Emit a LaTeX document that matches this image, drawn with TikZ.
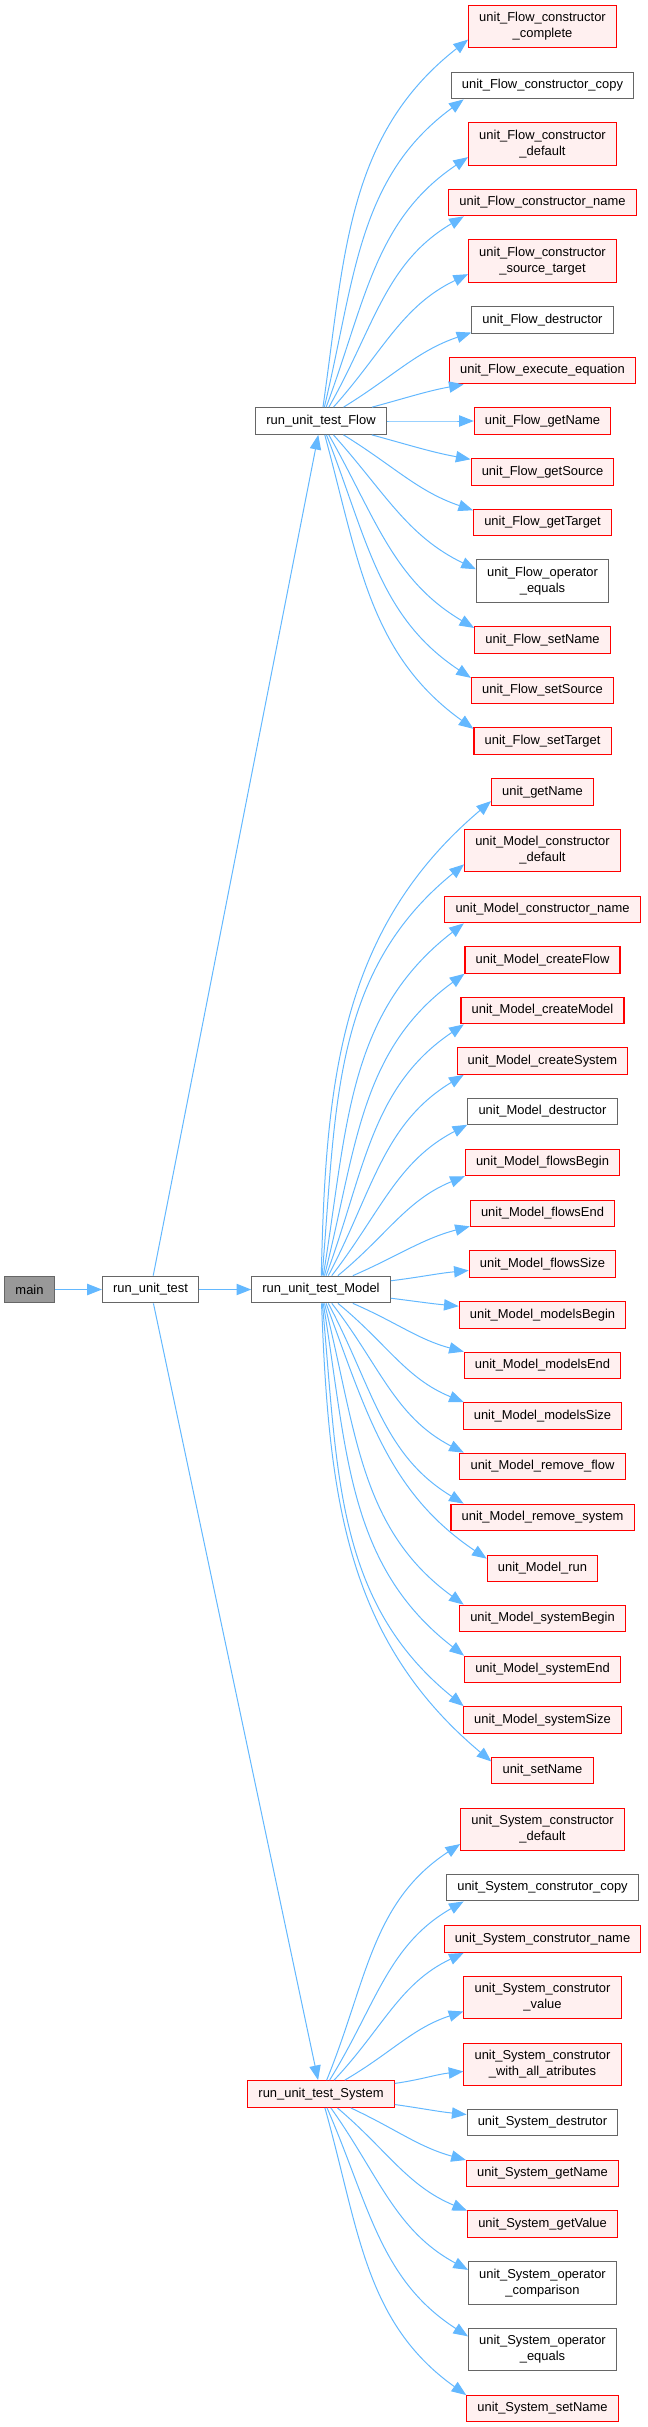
\documentclass[tikz,border=0pt]{standalone}
\usepackage{fontspec}
\setmainfont{Liberation Sans}
\usetikzlibrary{arrows.meta}
\definecolor{edgeblue}{HTML}{63B8FF}
\definecolor{redfill}{HTML}{FFF0F0}
\definecolor{boxgray}{HTML}{666666}
\definecolor{mainfill}{HTML}{999999}

\begin{document}
\begin{tikzpicture}[
  x=0.75pt, y=-0.75pt,
  fn/.style={rectangle, draw=boxgray, line width=0.8pt, fill=white,
             inner xsep=8pt, inner ysep=5.5pt, minimum height=20pt,
             align=center, font=\fontsize{9.7}{12}\selectfont},
  doc/.style={fn, draw=red, fill=redfill},
  top/.style={fn, fill=mainfill},
  call/.style={-{Triangle[length=11pt,width=8.5pt]}, edgeblue, line width=0.75pt}
]
  \useasboundingbox (0,0) rectangle (647,2427);

  % Callers
  \node[top] (main) at (29.5,1289.5) {main};
  \node[fn] (rut) at (150.5,1289.5) {run\_unit\_test};
  \node[fn] (flow) at (321,421) {run\_unit\_test\_Flow};
  \node[fn] (model) at (321,1289.5) {run\_unit\_test\_Model};
  \node[doc] (system) at (321,2094) {run\_unit\_test\_System};
  \draw[call] (main) -- (rut);
  \draw[call] (rut) -- (flow);
  \draw[call] (rut) -- (model);
  \draw[call] (rut) -- (system);

  % Flow tests
  \foreach \n/\y/\t/\s in {
    fcc/26.5/{unit\_Flow\_constructor\\\_complete}/doc,
    fcp/85.5/{unit\_Flow\_constructor\_copy}/fn,
    fcd/144/{unit\_Flow\_constructor\\\_default}/doc,
    fcn/202.5/{unit\_Flow\_constructor\_name}/doc,
    fcs/261/{unit\_Flow\_constructor\\\_source\_target}/doc,
    fde/320/{unit\_Flow\_destructor}/fn,
    fex/370.5/{unit\_Flow\_execute\_equation}/doc,
    fgn/421/{unit\_Flow\_getName}/doc,
    fgs/472/{unit\_Flow\_getSource}/doc,
    fgt/522.5/{unit\_Flow\_getTarget}/doc,
    fop/581/{unit\_Flow\_operator\\\_equals}/fn,
    fsn/640/{unit\_Flow\_setName}/doc,
    fss/690.5/{unit\_Flow\_setSource}/doc,
    fst/741/{unit\_Flow\_setTarget}/doc} {
    \node[\s] (\n) at (542.5,\y) {\t};
    \pgfmathsetmacro{\dy}{421-\y}
    \pgfmathsetmacro{\ang}{atan2(\dy,150)}
    \pgfmathsetmacro{\ou}{\ang*(0.7+0.007*abs(\ang))}
    \pgfmathsetmacro{\ia}{180+0.55*\ang}
    \pgfmathtruncatemacro{\anc}{180+max(-10,min(10,\dy/5))}
    \draw[call] (flow) to[out=\ou, in=\ia] (\n.\anc);
  }

  % Model tests
  \foreach \n/\y/\t/\s in {
    mgn/792/{unit\_getName}/doc,
    mcd/850.5/{unit\_Model\_constructor\\\_default}/doc,
    mcn/909.5/{unit\_Model\_constructor\_name}/doc,
    mcf/960/{unit\_Model\_createFlow}/doc,
    mcm/1010.5/{unit\_Model\_createModel}/doc,
    mcs/1061/{unit\_Model\_createSystem}/doc,
    mde/1111.5/{unit\_Model\_destructor}/fn,
    mfb/1162.5/{unit\_Model\_flowsBegin}/doc,
    mfe/1213.5/{unit\_Model\_flowsEnd}/doc,
    mfs/1264/{unit\_Model\_flowsSize}/doc,
    mmb/1315/{unit\_Model\_modelsBegin}/doc,
    mme/1365.5/{unit\_Model\_modelsEnd}/doc,
    mms/1416/{unit\_Model\_modelsSize}/doc,
    mrf/1466.5/{unit\_Model\_remove\_flow}/doc,
    mrs/1517.5/{unit\_Model\_remove\_system}/doc,
    mru/1568.5/{unit\_Model\_run}/doc,
    msb/1618.5/{unit\_Model\_systemBegin}/doc,
    mse/1669.5/{unit\_Model\_systemEnd}/doc,
    mss/1720/{unit\_Model\_systemSize}/doc,
    msn/1770.5/{unit\_setName}/doc} {
    \node[\s] (\n) at (542.5,\y) {\t};
    \pgfmathsetmacro{\dy}{1289.5-\y}
    \pgfmathsetmacro{\ang}{atan2(\dy,150)}
    \pgfmathsetmacro{\ou}{\ang*(0.7+0.007*abs(\ang))}
    \pgfmathsetmacro{\ia}{180+0.55*\ang}
    \pgfmathtruncatemacro{\anc}{180+max(-10,min(10,\dy/5))}
    \draw[call] (model) to[out=\ou, in=\ia] (\n.\anc);
  }

  % System tests
  \foreach \n/\y/\t/\s in {
    scd/1829.5/{unit\_System\_constructor\\\_default}/doc,
    scc/1887.5/{unit\_System\_construtor\_copy}/fn,
    scn/1939/{unit\_System\_construtor\_name}/doc,
    scv/1997.5/{unit\_System\_construtor\\\_value}/doc,
    sca/2064.5/{unit\_System\_construtor\\\_with\_all\_atributes}/doc,
    sde/2122.5/{unit\_System\_destrutor}/fn,
    sgn/2173.5/{unit\_System\_getName}/doc,
    sgv/2224/{unit\_System\_getValue}/doc,
    soc/2283/{unit\_System\_operator\\\_comparison}/fn,
    soe/2349.5/{unit\_System\_operator\\\_equals}/fn,
    ssn/2408.5/{unit\_System\_setName}/doc} {
    \node[\s] (\n) at (542.5,\y) {\t};
    \pgfmathsetmacro{\dy}{2094-\y}
    \pgfmathsetmacro{\ang}{atan2(\dy,150)}
    \pgfmathsetmacro{\ou}{\ang*(0.7+0.007*abs(\ang))}
    \pgfmathsetmacro{\ia}{180+0.55*\ang}
    \pgfmathtruncatemacro{\anc}{180+max(-10,min(10,\dy/5))}
    \draw[call] (system) to[out=\ou, in=\ia] (\n.\anc);
  }
\end{tikzpicture}
\end{document}
